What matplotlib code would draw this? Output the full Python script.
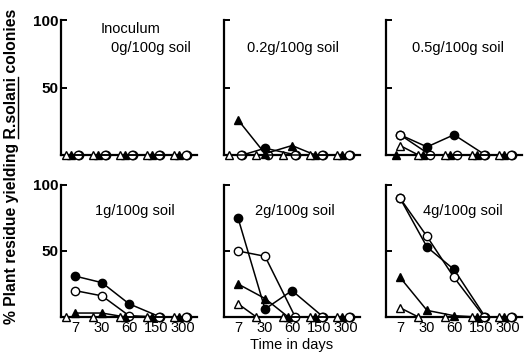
import matplotlib
matplotlib.use("Agg")
import matplotlib.pyplot as plt
from matplotlib.lines import Line2D
import numpy as np

plt.rcParams['font.family'] = ['Liberation Sans', 'DejaVu Sans']

days = ["7", "30", "60", "150", "300"]
panel_titles = ["Inoculum\n  0g/100g soil", "0.2g/100g soil", "0.5g/100g soil",
                "1g/100g soil", "2g/100g soil", "4g/100g soil"]

# series per panel: filled circle, open circle, filled triangle, open triangle
filled_circle = [
    [0, 0, 0, 0, 0],
    [0, 5, 0, 0, 0],
    [15, 6, 15, 0, 0],
    [31, 26, 10, 0, 0],
    [75, 6, 20, 0, 0],
    [90, 53, 36, 0, 0],
]
open_circle = [
    [0, 0, 0, 0, 0],
    [0, 0, 0, 0, 0],
    [15, 0, 0, 0, 0],
    [20, 16, 1, 0, 0],
    [50, 46, 0, 0, 0],
    [90, 61, 30, 0, 0],
]
filled_triangle = [
    [0, 0, 0, 0, 0],
    [26, 1, 7, 0, 0],
    [0, 0, 0, 0, 0],
    [3, 3, 0, 0, 0],
    [25, 14, 0, 0, 0],
    [30, 5, 1, 0, 0],
]
open_triangle = [
    [0, 0, 0, 0, 0],
    [0, 0, 0, 0, 0],
    [7, 0, 0, 0, 0],
    [0, 0, 0, 0, 0],
    [10, 0, 0, 0, 0],
    [7, 0, 0, 0, 0],
]

W, H = 531, 352
fig = plt.figure(figsize=(W / 100, H / 100), dpi=100)

col_x = [61, 224, 386]
ax_w = 136
rows = [(20, 155), (185, 317)]

styles = [
    (filled_circle, dict(marker='o', mfc='black'), 0.16),
    (open_circle, dict(marker='o', mfc='white'), 0.12),
    (filled_triangle, dict(marker='^', mfc='black'), -0.14),
    (open_triangle, dict(marker='^', mfc='white'), -0.32),
]

x = np.arange(len(days))
for i in range(6):
    r, c = divmod(i, 3)
    top, bot = rows[r]
    ax = fig.add_axes([col_x[c] / W, 1 - bot / H, ax_w / W, (bot - top) / H])
    ax.set_xlim(-0.52, 4.52)
    ax.set_ylim(0, 100)
    for sp in ['top', 'right']:
        ax.spines[sp].set_visible(False)
    for sp in ['left', 'bottom']:
        ax.spines[sp].set_linewidth(1.6)
    ax.set_yticks([50, 100])
    ax.tick_params(axis='y', direction='in', length=4, width=1.4, labelsize=11,
                   pad=2)
    if c == 0:
        ax.set_yticklabels(["50", "100"], fontweight='bold')
    else:
        ax.set_yticklabels([])
    ax.set_xticks(x)
    ax.tick_params(axis='x', length=0, labelsize=10.5, pad=3)
    if r == 1:
        ax.set_xticklabels(days)
    else:
        ax.set_xticklabels([])
    for data, st, off in styles:
        vals = np.array(data[i], dtype=float)
        xs = x + np.where(vals == 0, off, 0.0)
        ax.plot(xs, vals, color='black', lw=1.1, mec='black', mew=1.0,
                ms=6, clip_on=False, zorder=3, **st)
    if i == 0:
        ax.text(0.29, 0.93, "Inoculum", transform=ax.transAxes, fontsize=10.5,
                ha='left', va='center')
        ax.text(0.37, 0.79, "0g/100g soil", transform=ax.transAxes, fontsize=10.5,
                ha='left', va='center')
    else:
        tx = {1: 0.17, 2: 0.19, 3: 0.25, 4: 0.23, 5: 0.27}[i]
        ax.text(tx, 0.79 if r == 0 else 0.80, panel_titles[i],
                transform=ax.transAxes, fontsize=10.5, ha='left', va='center')

# y label with underlined species name
prefix = "% Plant residue yielding "
species = "R.solani"
suffix = " colonies"
fs = 10.5
target_len = 316
fig.canvas.draw()
rend = fig.canvas.get_renderer()

def width_of(s, size):
    t = fig.text(0, 0, s, fontsize=size, fontweight='bold')
    w = t.get_window_extent(rend).width
    t.remove()
    return w

fs = fs * target_len / width_of(prefix + species + suffix, fs)
lab_kw = dict(fontsize=fs, fontweight='bold')
yc_px = H - 166
xc_px = 12
fig.text(xc_px / W, yc_px / H, prefix + species + suffix, rotation=90,
         ha='center', va='center', **lab_kw)

w_tot = width_of(prefix + species + suffix, fs)
w_pre = width_of(prefix, fs)
w_sp = width_of(species, fs)
y0 = yc_px - w_tot / 2 + w_pre
y1 = y0 + w_sp
ux = xc_px + 6
fig.add_artist(Line2D([ux / W, ux / W], [y0 / H, y1 / H], color='black',
                      lw=1.0, transform=fig.transFigure))

fig.text(292 / W, 1 - 345 / H, "Time in days", ha='center', va='center',
         fontsize=10.5)

fig.savefig("out.png", dpi=100)
